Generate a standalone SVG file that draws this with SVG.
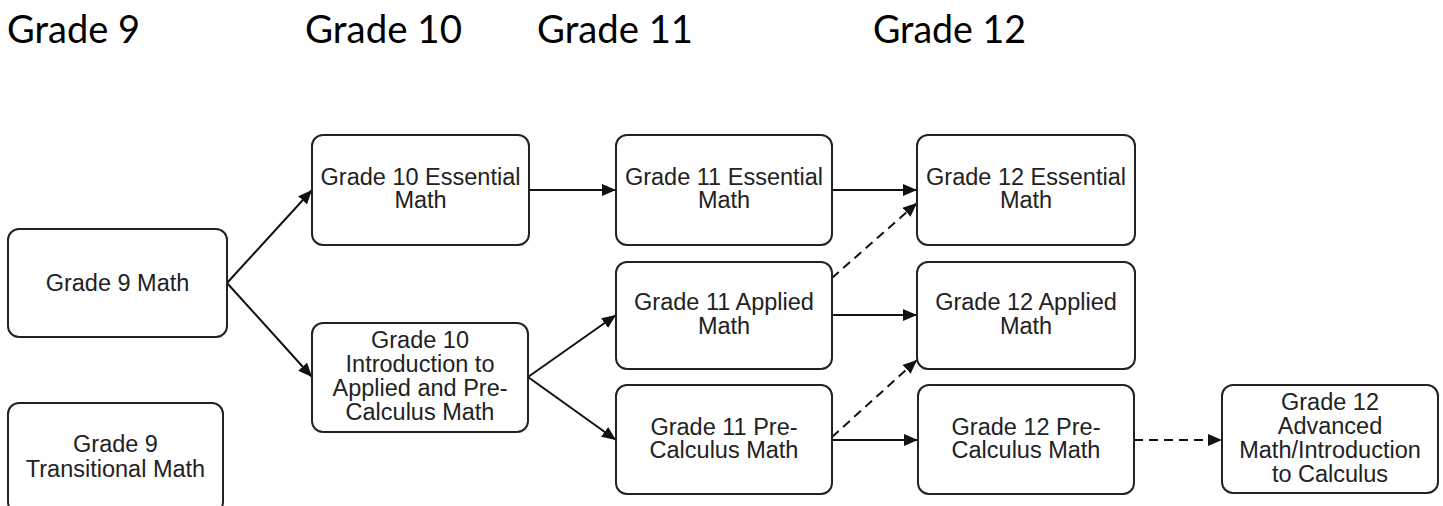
<svg xmlns="http://www.w3.org/2000/svg" width="1443" height="506" viewBox="0 0 1443 506">
<style>
.hdr{font-family:Lato,"Open Sans","Liberation Sans",sans-serif;font-size:39px;fill:#000}
.box{fill:#fff;stroke:#222;stroke-width:2}
.lbl{font-family:"Liberation Sans",Arial,sans-serif;font-size:23.5px;fill:#222;text-anchor:middle}
.c{fill:none;stroke:#111;stroke-width:2}
.d{stroke-dasharray:9 6}
</style>
<defs>
<marker id="arr" viewBox="0 0 14 12" refX="14" refY="6" markerWidth="14" markerHeight="12" markerUnits="userSpaceOnUse" orient="auto">
<path d="M0,0 L14,6 L0,12 Z" fill="#111"/>
</marker>
</defs>
<rect width="1443" height="506" fill="#fff"/>
<g id="headers">
<text class="hdr" x="7" y="43" textLength="133" lengthAdjust="spacingAndGlyphs">Grade 9</text>
<text class="hdr" x="305" y="43" textLength="157" lengthAdjust="spacingAndGlyphs">Grade 10</text>
<text class="hdr" x="537" y="43" textLength="156" lengthAdjust="spacingAndGlyphs">Grade 11</text>
<text class="hdr" x="873" y="43" textLength="153" lengthAdjust="spacingAndGlyphs">Grade 12</text>
</g>
<g id="connectors">
<path class="c" d="M227,283 L312,190" marker-end="url(#arr)"/>
<path class="c" d="M227,283 L312,377" marker-end="url(#arr)"/>
<path class="c" d="M529,190 L616,190" marker-end="url(#arr)"/>
<path class="c" d="M528,377 L616,315" marker-end="url(#arr)"/>
<path class="c" d="M528,377 L616,440" marker-end="url(#arr)"/>
<path class="c" d="M832,190 L917,190" marker-end="url(#arr)"/>
<path class="c" d="M832,315 L917,315" marker-end="url(#arr)"/>
<path class="c" d="M832,440 L918,440" marker-end="url(#arr)"/>
<path class="c d" d="M832,278 L917,203" marker-end="url(#arr)"/>
<path class="c d" d="M832,437 L917,360" marker-end="url(#arr)"/>
<path class="c d" d="M1134,440 L1222,440" marker-end="url(#arr)"/>
</g>
<g id="g9math">
<rect class="box" x="8" y="229" width="219" height="108" rx="11"/>
<text class="lbl" x="117.5" y="291">Grade 9 Math</text>
</g>
<g id="g9trans">
<rect class="box" x="8" y="403" width="215" height="110" rx="11"/>
<text class="lbl" x="115.5" y="452">Grade 9</text>
<text class="lbl" x="115.5" y="476.5">Transitional Math</text>
</g>
<g id="g10ess">
<rect class="box" x="312" y="135" width="217" height="110" rx="11"/>
<text class="lbl" x="420.5" y="184.5">Grade 10 Essential</text>
<text class="lbl" x="420.5" y="208">Math</text>
</g>
<g id="g10intro">
<rect class="box" x="312" y="323" width="216" height="109" rx="11"/>
<text class="lbl" x="420" y="348">Grade 10</text>
<text class="lbl" x="420" y="372">Introduction to</text>
<text class="lbl" x="420" y="396">Applied and Pre-</text>
<text class="lbl" x="420" y="420">Calculus Math</text>
</g>
<g id="g11ess">
<rect class="box" x="616" y="135" width="216" height="110" rx="11"/>
<text class="lbl" x="724" y="184.5">Grade 11 Essential</text>
<text class="lbl" x="724" y="208">Math</text>
</g>
<g id="g11app">
<rect class="box" x="616" y="262" width="216" height="107" rx="11"/>
<text class="lbl" x="724" y="310">Grade 11 Applied</text>
<text class="lbl" x="724" y="333.5">Math</text>
</g>
<g id="g11pre">
<rect class="box" x="616" y="385" width="216" height="109" rx="11"/>
<text class="lbl" x="724" y="434.5">Grade 11 Pre-</text>
<text class="lbl" x="724" y="458">Calculus Math</text>
</g>
<g id="g12ess">
<rect class="box" x="917" y="135" width="218" height="110" rx="11"/>
<text class="lbl" x="1026" y="184.5">Grade 12 Essential</text>
<text class="lbl" x="1026" y="208">Math</text>
</g>
<g id="g12app">
<rect class="box" x="917" y="262" width="218" height="107" rx="11"/>
<text class="lbl" x="1026" y="310">Grade 12 Applied</text>
<text class="lbl" x="1026" y="333.5">Math</text>
</g>
<g id="g12pre">
<rect class="box" x="918" y="385" width="216" height="109" rx="11"/>
<text class="lbl" x="1026" y="434.5">Grade 12 Pre-</text>
<text class="lbl" x="1026" y="458">Calculus Math</text>
</g>
<g id="g12adv">
<rect class="box" x="1222" y="385" width="216" height="108" rx="11"/>
<text class="lbl" x="1330" y="409.5">Grade 12</text>
<text class="lbl" x="1330" y="433.5">Advanced</text>
<text class="lbl" x="1330" y="457.5">Math/Introduction</text>
<text class="lbl" x="1330" y="481.5">to Calculus</text>
</g>
</svg>
